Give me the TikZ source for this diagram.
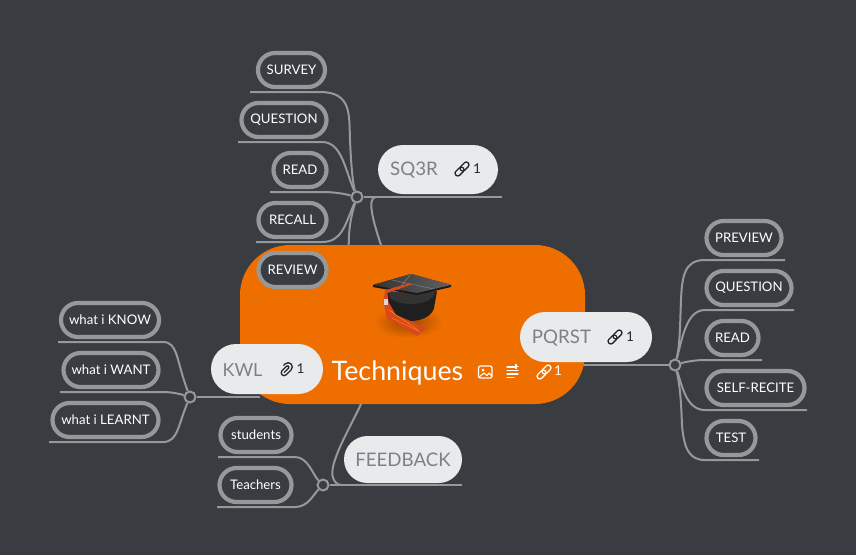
\documentclass[tikz,border=0pt]{standalone}
\usepackage{fontspec}
\setmainfont{Lato}
\usetikzlibrary{backgrounds}
\definecolor{bgc}{HTML}{393C41}
\definecolor{org}{HTML}{EE6E00}
\definecolor{stk}{HTML}{969999}
\definecolor{pil}{HTML}{E9EAEC}
\definecolor{gtx}{HTML}{7D8187}
\definecolor{ink}{HTML}{23262B}
\definecolor{tass}{HTML}{D9481C}
\tikzset{
  x=1pt,y=-1pt,
  pillbox/.style={draw=stk,line width=4.2pt,fill=bgc,text=white,rounded corners=17pt,inner sep=0pt,minimum height=34pt,font=\fontsize{13.2}{15}\selectfont},
  topicbox/.style={fill=pil,text=gtx,inner sep=0pt,font=\fontsize{18.7}{22}\selectfont},
  hubdot/.style={circle,draw=stk,line width=2pt,fill=bgc,minimum size=11pt,inner sep=0pt},
  conn/.style={draw=stk,line width=2pt},
  icn/.style={line width=1.3pt,line cap=round,line join=round},
  cnt/.style={inner sep=0pt,font=\fontsize{13.5}{15}\selectfont}
}
\newcommand{\linkicon}[3]{%
  \begin{scope}[shift={(#1,#2)},rotate=45]
    \draw[icn,draw=#3,rounded corners=2.4pt] (-8.6,-2.7) rectangle (1.6,2.7);
    \draw[icn,draw=#3,rounded corners=2.4pt] (-1.6,-2.7) rectangle (8.6,2.7);
  \end{scope}}
\begin{document}
\begin{tikzpicture}
\useasboundingbox (0,0) rectangle (856,555);
\begin{pgfonlayer}{background}
  \fill[bgc] (0,0) rectangle (856,555);
\end{pgfonlayer}

% central topic
\node[fill=org,rounded corners=50pt,minimum width=345pt,minimum height=159pt,inner sep=0pt] (main) at (412.5,324.5) {};
\node[text=white,inner sep=0pt,font=\fontsize{26.8}{28}\selectfont] (maintxt) at (397.5,373) {Techniques};

% hat
\shade[inner color=black!35!org,outer color=org] (408,322) ellipse (34 and 16);
\fill[black!88] (385,292) -- (387,310) .. controls (392,318) and (402,321) .. (410,321) .. controls (422,321) and (432,316) .. (434,308) -- (437,291) -- (417,293) -- cycle;
\fill[black!80] (390,298) .. controls (398,306) and (425,306) .. (433,297) -- (436,291) -- (417,294) -- (388,291) -- cycle;
\fill[black!90] (373,285) -- (411,274) -- (451,285) -- (451,287) -- (417,295) -- (373,287) -- cycle;
\shade[left color=black!80,right color=black!62] (373,285) -- (411,274) -- (451,285) -- (417,293) -- cycle;
\draw[black!50,line width=.5pt] (392,280) -- (434,289) (411,274) -- (398,290);
\fill[tass] (411,283) -- (385,290) -- (383.5,302) -- (387,318) -- (417,336) -- (427,328) -- (396,315) -- (388.5,302) -- (387.5,293) -- (411,284.6) -- cycle;
\draw[orange!80!yellow,line width=.4pt] (392,318) -- (420,332) (389,310) -- (418,330);
\fill[white!85!black] (383.5,299) rectangle (387.5,305);

% hubs
\node[hubdot] (hubsq) at (357,197) {};
\node[hubdot] (hubpq) at (675,365) {};
\node[hubdot] (hubkw) at (190,397) {};
\node[hubdot] (hubfb) at (323,485) {};

% main branch topics
\node[topicbox,rounded corners=25pt,minimum width=120pt,minimum height=49pt] (sq3r) at (438,169.5) {};
\node[text=gtx,inner sep=0pt,font=\fontsize{18.7}{22}\selectfont] (sqtxt) at (414,170) {SQ3R};
\node[topicbox,rounded corners=25pt,minimum width=132pt,minimum height=50pt] (pqrst) at (586,337) {};
\node[text=gtx,inner sep=0pt,font=\fontsize{18.7}{22}\selectfont] (pqtxt) at (561.5,338) {PQRST};
\node[topicbox,rounded corners=25pt,minimum width=112pt,minimum height=50pt] (kwl) at (267,369) {};
\node[text=gtx,inner sep=0pt,font=\fontsize{18}{22}\selectfont] (kwtxt) at (242.5,370) {KWL};
\node[topicbox,rounded corners=23.5pt,minimum width=118pt,minimum height=47pt] (feedback) at (403,459.5) {FEEDBACK};

% leaves SQ3R
\node[pillbox,minimum width=67pt] (survey) at (291.5,70) {SURVEY};
\node[pillbox,minimum width=85pt] (questiona) at (284,120) {QUESTION};
\node[pillbox,minimum width=53pt] (reada) at (300,170) {READ};
\node[pillbox,minimum width=68pt] (recall) at (292.5,220) {RECALL};
\node[pillbox,minimum width=68pt] (review) at (292.5,270) {REVIEW};
% leaves PQRST
\node[pillbox,minimum width=75pt] (preview) at (744,238) {PREVIEW};
\node[pillbox,minimum width=85pt] (questionb) at (749,288) {QUESTION};
\node[pillbox,minimum width=52pt] (readb) at (732.5,338) {READ};
\node[pillbox,minimum width=98pt] (selfrec) at (755.5,388) {SELF-RECITE};
\node[pillbox,minimum width=49pt] (testn) at (731,438) {TEST};
% leaves KWL
\node[pillbox,minimum width=98pt] (know) at (110,320) {what i KNOW};
\node[pillbox,minimum width=95pt] (want) at (111,370) {what i WANT};
\node[pillbox,minimum width=106pt] (learnt) at (105.5,420) {what i LEARNT};
% leaves FEEDBACK
\node[pillbox,minimum width=71pt] (students) at (256,435) {students};
\node[pillbox,minimum width=72pt] (teachers) at (255.5,485) {Teachers};

% connectors
\begin{pgfonlayer}{background}
  \coordinate (sqr) at (502,197);
  \coordinate (sqj) at (376,197);
  \coordinate (pqj) at (540,365);
  \coordinate (kwr) at (260,397);
  \coordinate (fbr) at (462,485);
  \coordinate (fbj) at (342,485);
  \draw[conn] (hubsq) -- (sqr);
  \draw[conn] (381,245) .. controls (374,224) and (366,197) .. (sqj);
  \draw[conn] (hubpq) -- (pqj);
  \draw[conn] (hubkw) -- (kwr);
  \draw[conn] (hubfb) -- (fbr);
  \draw[conn] (362,402) .. controls (350,428) and (328,464) .. (333,478) .. controls (335,483) and (338,485) .. (fbj);
  % SQ3R leaves
  \draw[conn] (250,92) -- (320,92) .. controls (352,92) and (349,115) .. (350,140) .. controls (351,165) and (353,185) .. (hubsq);
  \draw[conn] (238,142) -- (322,142) .. controls (342,142) and (345,170) .. (hubsq);
  \draw[conn] (270,192) -- (322,192) .. controls (335,192) and (345,194) .. (hubsq);
  \draw[conn] (256,242) -- (322,242) .. controls (342,242) and (345,225) .. (hubsq);
  \draw[conn] (256,292) -- (320,292) .. controls (350,290) and (348,260) .. (349,235) .. controls (350,220) and (353,210) .. (hubsq);
  % PQRST leaves
  \draw[conn] (hubpq) .. controls (680,345) and (680,325) .. (681,300) .. controls (682,275) and (685,260) .. (705,260) -- (785,260);
  \draw[conn] (hubpq) .. controls (682,340) and (686,310) .. (705,310) -- (794,310);
  \draw[conn] (hubpq) .. controls (685,362) and (695,360) .. (705,360) -- (762,360);
  \draw[conn] (hubpq) .. controls (682,385) and (686,410) .. (705,410) -- (807,410);
  \draw[conn] (hubpq) .. controls (680,385) and (681,400) .. (682,425) .. controls (684,450) and (690,460) .. (705,460) -- (759,460);
  % KWL leaves
  \draw[conn] (58,342) -- (163,342) .. controls (178,342) and (176,360) .. (hubkw);
  \draw[conn] (60,392) -- (163,392) .. controls (172,392) and (180,394) .. (hubkw);
  \draw[conn] (49,442) -- (163,442) .. controls (178,442) and (178,425) .. (hubkw);
  % FEEDBACK leaves
  \draw[conn] (218,457) -- (295,457) .. controls (308,457) and (313,475) .. (hubfb);
  \draw[conn] (217,507) -- (295,507) .. controls (308,507) and (313,495) .. (hubfb);
\end{pgfonlayer}

% icons
\linkicon{462}{169}{ink}
\node[cnt,text=ink] (cnta) at (477,168.5) {1};
\linkicon{615}{337}{ink}
\node[cnt,text=ink] (cntb) at (630,336.5) {1};
\node[cnt,text=ink] (cntc) at (300.5,368.5) {1};
\begin{scope}[shift={(286,369)},rotate=45]
  \draw[icn,draw=ink] (-3.5,1.2) -- (2.5,1.2) arc (90:-90:1.4) -- (-4,-1.6) arc (270:90:2.9) -- (3,4.2) arc (90:-90:4.2) -- (1,-4.2);
\end{scope}
\linkicon{544}{372}{white}
\node[cnt,text=white] (cntd) at (558,371) {1};
\draw[icn,draw=white,rounded corners=2pt] (478.5,366) rectangle (492,378);
\fill[white] (483,370) circle (1.5);
\draw[icn,draw=white,line width=1.1pt] (479,377) -- (484,373) -- (487,375.5) -- (489,373) -- (492,376);
\draw[icn,draw=white] (507,367) -- (515,367) (507,370.5) -- (518,370.5) (507,374) -- (518,374) (507,377.5) -- (514,377.5) (516,364.5) -- (516,368.5) (514,366.5) -- (518,366.5);
\end{tikzpicture}
\end{document}
